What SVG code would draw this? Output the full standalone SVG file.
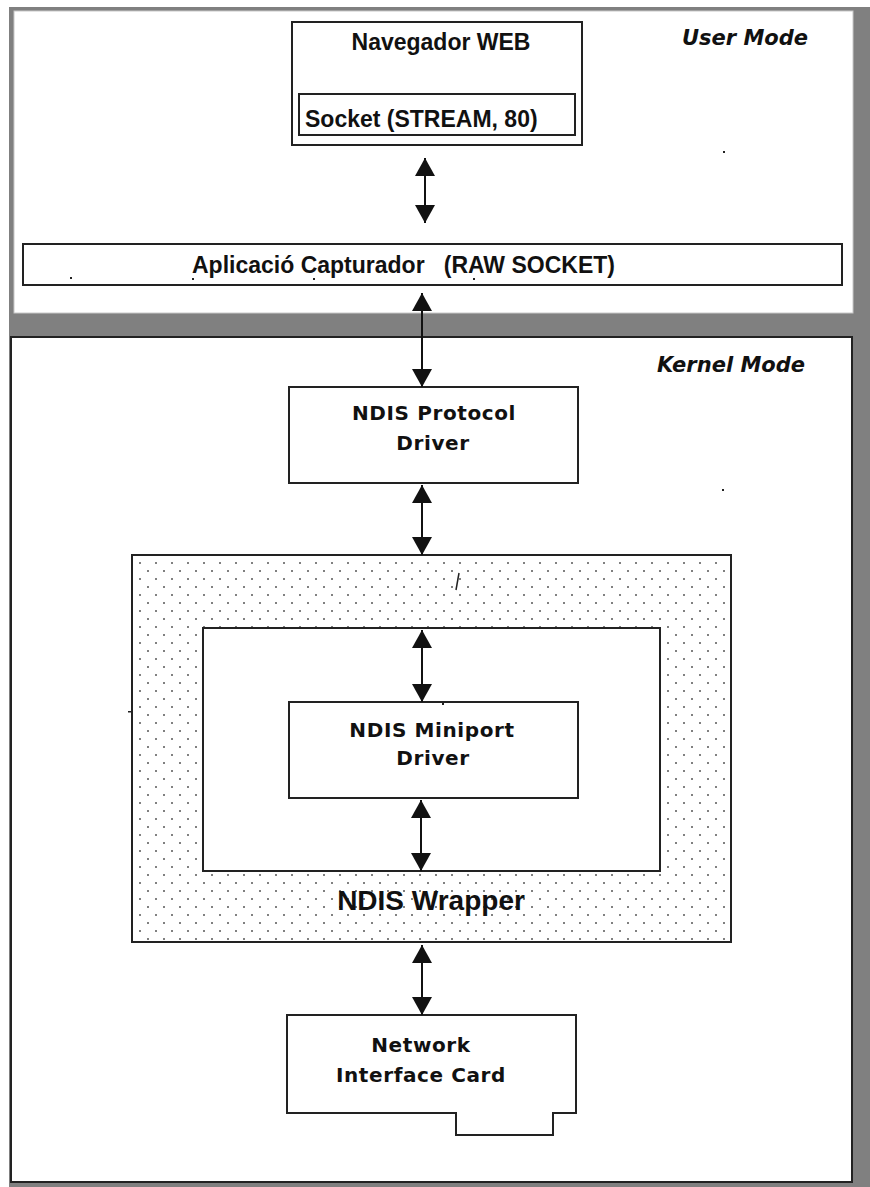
<svg xmlns="http://www.w3.org/2000/svg" width="870" height="1187" viewBox="0 0 870 1187">
  <defs>
    <style>
      .box { fill: #ffffff; stroke: #222222; stroke-width: 2; }
      .lbl { font-family: "Liberation Sans", Arial, sans-serif; font-weight: bold; font-size: 23px; fill: #111111; }
      .drv { font-family: "DejaVu Sans", Verdana, sans-serif; font-weight: bold; font-size: 20px; letter-spacing: 0.6px; fill: #111111; text-anchor: middle; }
      .mode { font-family: "DejaVu Sans", Verdana, sans-serif; font-weight: bold; font-style: italic; font-size: 21px; fill: #111111; }
      .wrap { font-family: "Liberation Sans", Arial, sans-serif; font-weight: bold; font-size: 28px; fill: #111111; text-anchor: middle; }
      .conn { stroke: #111111; stroke-width: 2; fill: none; marker-start: url(#head); marker-end: url(#head); }
      .speck { fill: #222222; }
      .dot { fill: #3a3a3a; }
    </style>
    <!-- solid triangular arrowhead, reused at both ends of every connector -->
    <marker id="head" viewBox="0 0 18 20" refX="18" refY="10" markerWidth="18" markerHeight="20" markerUnits="userSpaceOnUse" orient="auto-start-reverse">
      <path d="M0,0 L18,10 L0,20 Z" fill="#111111"/>
    </marker>
    <!-- staggered dot screen for the wrapper area -->
    <pattern id="dots" patternUnits="userSpaceOnUse" x="140" y="563" width="16" height="16">
      <rect x="0" y="0" width="16" height="16" fill="#ffffff"/>
      <rect class="dot" x="-0.8" y="-0.8" width="1.6" height="1.6"/>
      <rect class="dot" x="15.2" y="-0.8" width="1.6" height="1.6"/>
      <rect class="dot" x="-0.8" y="15.2" width="1.6" height="1.6"/>
      <rect class="dot" x="15.2" y="15.2" width="1.6" height="1.6"/>
      <rect class="dot" x="7.2" y="7.2" width="1.6" height="1.6"/>
    </pattern>
  </defs>

  <!-- page and grey frame -->
  <rect x="0" y="0" width="870" height="1187" fill="#ffffff"/>
  <rect x="9" y="7" width="861" height="1180" fill="#808080"/>

  <!-- user mode panel -->
  <g id="user-mode">
    <rect x="14" y="11" width="839" height="302" fill="#ffffff" stroke="#c8c8c8" stroke-width="1"/>
    <text class="mode" x="682" y="45">User Mode</text>
  </g>

  <!-- kernel mode panel -->
  <g id="kernel-mode">
    <rect x="11" y="337" width="841" height="845" fill="#ffffff" stroke="#222222" stroke-width="2"/>
    <text class="mode" x="657" y="372">Kernel Mode</text>
  </g>

  <g id="navegador-web">
    <rect class="box" x="292" y="22" width="290" height="123"/>
    <text class="lbl" x="441" y="50" text-anchor="middle">Navegador WEB</text>
  </g>

  <g id="socket-stream">
    <rect class="box" x="299" y="94" width="276" height="41"/>
    <text class="lbl" x="305" y="127">Socket (STREAM, 80)</text>
  </g>

  <g id="aplicacio-capturador">
    <rect class="box" x="23" y="244" width="819" height="41"/>
    <text class="lbl" x="192" y="273" style="white-space:pre">Aplicació Capturador   (RAW SOCKET)</text>
  </g>

  <g id="ndis-protocol-driver">
    <rect class="box" x="289" y="387" width="289" height="96"/>
    <text class="drv" x="434" y="420">NDIS Protocol</text>
    <text class="drv" x="433" y="450">Driver</text>
  </g>

  <g id="ndis-wrapper">
    <rect x="132" y="555" width="599" height="387" fill="url(#dots)" stroke="#222222" stroke-width="2"/>
    <rect class="box" x="203" y="628" width="457" height="243"/>
    <text class="wrap" x="431" y="910">NDIS Wrapper</text>
  </g>

  <g id="ndis-miniport-driver">
    <rect class="box" x="289" y="702" width="289" height="96"/>
    <text class="drv" x="432" y="737">NDIS Miniport</text>
    <text class="drv" x="433" y="765">Driver</text>
  </g>

  <g id="network-interface-card">
    <path class="box" d="M287,1015 H576 V1113 H553 V1135 H456 V1113 H287 Z"/>
    <text class="drv" x="421" y="1052">Network</text>
    <text class="drv" x="421" y="1082">Interface Card</text>
  </g>

  <!-- two-way connectors between layers -->
  <g id="connectors">
    <line class="conn" x1="425" y1="158" x2="425" y2="223"/>
    <line class="conn" x1="422" y1="293" x2="422" y2="387"/>
    <line class="conn" x1="422" y1="485" x2="422" y2="555"/>
    <line class="conn" x1="422" y1="630" x2="422" y2="702"/>
    <line class="conn" x1="421" y1="800" x2="421" y2="871"/>
    <line class="conn" x1="422" y1="945" x2="422" y2="1015"/>
  </g>

  <!-- small stray marks -->
  <g id="specks">
    <rect class="speck" x="723" y="151" width="2" height="2"/>
    <rect class="speck" x="70" y="277" width="2" height="2"/>
    <rect class="speck" x="192" y="278" width="2" height="2"/>
    <rect class="speck" x="313" y="278" width="2" height="2"/>
    <rect class="speck" x="473" y="278" width="2" height="2"/>
    <rect class="speck" x="722" y="489" width="2" height="2"/>
    <rect class="speck" x="128" y="711" width="4" height="1.5"/>
    <rect class="speck" x="442" y="703" width="2" height="2"/>
    <line x1="459" y1="573" x2="456" y2="590" stroke="#222222" stroke-width="1.5"/>
  </g>
</svg>
